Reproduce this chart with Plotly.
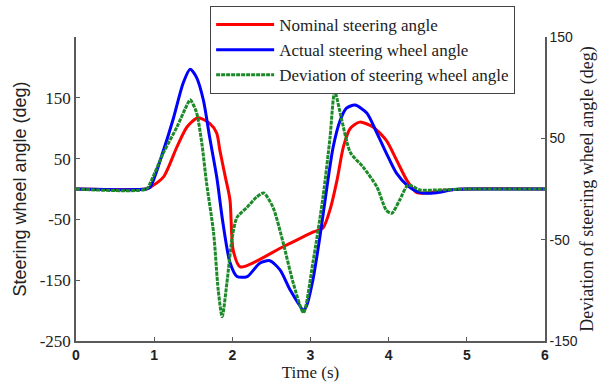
import plotly.graph_objects as go

# Nominal steering angle (left axis, deg)
t_nom = [0, 0.9, 0.95, 1.12, 1.29, 1.42, 1.56, 1.71, 1.80, 1.84, 1.91, 1.97, 2.01, 2.10,
         2.65, 3.03, 3.16, 3.25, 3.34, 3.42, 3.51, 3.63, 3.80, 3.97, 4.10, 4.23, 4.36, 4.53, 4.74, 5.0, 6.0]
v_nom = [0, 0, 3, 20, 69, 102, 117, 108, 92, 64, 20, -18, -100, -128,
         -95, -71, -64, -34, 15, 69, 100, 110, 102, 80, 48, 15, -6, -6, -2, 0, 0]

# Actual steering wheel angle (left axis, deg)
t_act = [0, 0.9, 0.95, 1.12, 1.25, 1.37, 1.46, 1.54, 1.63, 1.71, 1.80, 1.88, 1.97, 2.06, 2.19,
         2.35, 2.48, 2.61, 2.74, 2.91, 2.95, 3.03, 3.12, 3.21, 3.29, 3.38, 3.46, 3.57, 3.72, 3.85,
         3.97, 4.10, 4.23, 4.40, 4.61, 4.83, 5.0, 6.0]
v_act = [0, 0, 3, 64, 118, 174, 197, 184, 146, 85, 20, -56, -121, -144, -144,
         -122, -118, -133, -166, -199, -192, -150, -79, 3, 69, 113, 133, 138, 125, 92,
         59, 26, 7, -6, -6, -1, 0, 0]

# Deviation of steering wheel angle (right axis, deg)
t_dev = [0, 0.9, 0.95, 1.12, 1.29, 1.42, 1.46, 1.54, 1.61, 1.67, 1.76, 1.82, 1.87, 1.93, 2.0,
         2.06, 2.19, 2.31, 2.40, 2.52, 2.65, 2.78, 2.91, 3.03, 3.16, 3.25, 3.31, 3.40, 3.51, 3.67,
         3.85, 3.97, 4.04, 4.14, 4.25, 4.40, 4.61, 5.0, 6.0]
v_dev = [0, 0, 6, 36, 61, 83, 88, 76, 45, 6, -43, -100, -126, -93, -47,
         -28, -18, -8, -4, -18, -53, -93, -122, -73, -8, 51, 96, 68, 36, 22,
         2, -21, -24, -11, 4, -1, -1, 0, 0]

x_ticks = [0, 1, 2, 3, 4, 5, 6]
y1_ticks = [-250, -150, -50, 50, 150]
y1_labels = ["-250", "-150", "-50", "50", "150"]
y2_ticks = [-150, -50, 50, 150]
y2_labels = ["-150", "-50", "50", "150"]

SERIF = "Liberation Serif, Times New Roman, serif"
SANS = "Liberation Sans, Arial, sans-serif"
AX = "#5a5a5a"

fig = go.Figure()
fig.add_trace(go.Scatter(x=t_nom, y=v_nom, mode="lines", name="Nominal steering angle",
                         line=dict(color="#ff0000", width=3, shape="spline", smoothing=0.7)))
fig.add_trace(go.Scatter(x=t_act, y=v_act, mode="lines", name="Actual steering wheel angle",
                         line=dict(color="#0000ff", width=3, shape="spline", smoothing=0.7)))
fig.add_trace(go.Scatter(x=t_dev, y=v_dev, mode="lines", name="Deviation of steering wheel angle",
                         yaxis="y2",
                         line=dict(color="#1c8a28", width=3, shape="spline", smoothing=0.7, dash="4px,1px")))

fig.update_layout(
    width=602, height=383,
    margin=dict(l=76, r=57, t=37, b=42, autoexpand=False),
    paper_bgcolor="white", plot_bgcolor="white",
    showlegend=True,
    legend=dict(x=0.286, y=1.102, xanchor="left", yanchor="top",
                bgcolor="white", bordercolor="#444", borderwidth=1,
                font=dict(family=SERIF, size=17, color="#222"),
                tracegroupgap=0, itemwidth=58),
    xaxis=dict(range=[0, 6], tickvals=x_ticks, ticks="inside", ticklen=4, tickcolor=AX,
               showline=True, linecolor=AX, linewidth=1.5, showgrid=False, zeroline=False,
               tickfont=dict(family=SANS, size=14, color="#222", weight="bold"),
               title=dict(text="Time (s)", font=dict(family=SERIF, size=17, color="#222"), standoff=4)),
    yaxis=dict(range=[-250, 250], tickvals=y1_ticks, ticktext=y1_labels, ticks="inside", ticklen=4,
               tickcolor=AX,
               showline=True, linecolor=AX, linewidth=1.5, showgrid=False, zeroline=False,
               tickfont=dict(family=SERIF, size=17, color="#222"),
               title=dict(text="Steering wheel angle (deg)", font=dict(family=SANS, size=18, color="#222"),
                          standoff=8)),
    yaxis2=dict(range=[-150, 150], tickvals=y2_ticks, ticktext=y2_labels, ticks="inside", ticklen=4,
                tickcolor=AX, overlaying="y", side="right",
                showline=True, linecolor=AX, linewidth=1.5, showgrid=False, zeroline=False,
                tickfont=dict(family=SANS, size=14, color="#222"),
                title=dict(text="Deviation of steering wheel angle (deg)",
                           font=dict(family=SERIF, size=18, color="#222"), standoff=4)),
)

fig.write_html("out.html")
